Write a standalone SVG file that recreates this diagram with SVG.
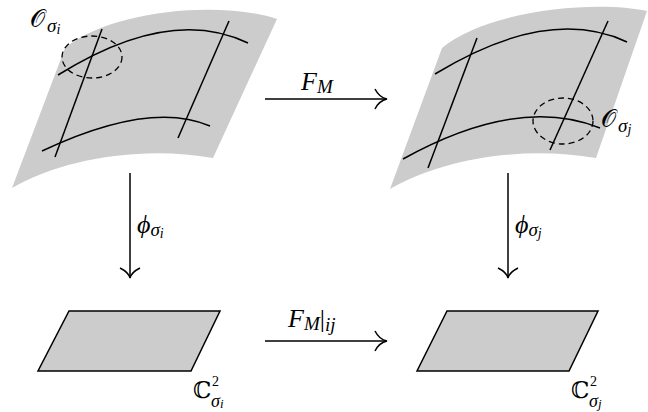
<svg xmlns="http://www.w3.org/2000/svg" width="648" height="412" viewBox="0 0 648 412">
<style>
.surf{fill:#cccccc;stroke:none}
.ln{fill:none;stroke:#000;stroke-width:1.5}
.dash{fill:none;stroke:#000;stroke-width:1.3;stroke-dasharray:6 4}
.plane{fill:#cccccc;stroke:#000;stroke-width:1.5;stroke-linejoin:miter}
.m{font-family:"Liberation Serif","DejaVu Serif",serif;font-style:italic;font-size:26px;fill:#000}
.cal{font-family:"DejaVu Serif","Liberation Serif",serif;font-size:24px;fill:#000}
.bb{font-family:"DejaVu Serif","Liberation Serif",serif;font-size:23px;fill:#000}
.s{font-size:19px}
.ss{font-size:14px}
.up{font-family:"Liberation Serif",serif;font-style:normal}
.sup{font-family:"Liberation Serif",serif;font-size:14px;fill:#000}
.sub{font-family:"Liberation Serif","DejaVu Serif",serif;font-style:italic;font-size:18px;fill:#000}
</style>
<rect width="648" height="412" fill="#fff"/>
<g id="surface-i">
<path class="surf" d="M 65,48 C 110,10 220,0 277,19 L 213,158 C 140,145 60,160 12,188 Z"/>
<path class="ln" d="M 58,75 Q 170,5 248,43"/>
<path class="ln" d="M 42,151 Q 150,100 210,126"/>
<path class="ln" d="M 102,29 L 55,157"/>
<path class="ln" d="M 229,21 L 178,138"/>
<ellipse class="dash" cx="92" cy="57" rx="30" ry="21"/>
<text class="cal" x="30" y="27">𝒪<tspan class="m s" dx="2" dy="5">σ</tspan><tspan class="m ss" dy="2">i</tspan></text>
</g>
<g id="surface-j">
<path class="surf" d="M 442,48 C 487,10 595,0 647,11 L 596,158 C 520,145 440,160 390,189 Z"/>
<path class="ln" d="M 435,74 Q 548,5 627,42"/>
<path class="ln" d="M 403,159 Q 518,95 600,128"/>
<path class="ln" d="M 477,38 L 428,168"/>
<path class="ln" d="M 608,21 L 550,150"/>
<ellipse class="dash" cx="563" cy="121" rx="30" ry="23"/>
<text class="cal" x="601" y="127">𝒪<tspan class="m s" dx="2" dy="5">σ</tspan><tspan class="m ss" dy="2">j</tspan></text>
</g>
<g id="plane-i">
<path class="plane" d="M 69,311 L 220,311 L 191,371 L 38,371 Z"/>
<text class="bb" x="193" y="398">ℂ</text>
<text class="sup" x="212" y="386">2</text>
<text class="sub" x="211" y="407">σ<tspan font-size="13px" dy="1">i</tspan></text>
</g>
<g id="plane-j">
<path class="plane" d="M 447,311 L 598,311 L 569,371 L 417,371 Z"/>
<text class="bb" x="571" y="398">ℂ</text>
<text class="sup" x="590" y="386">2</text>
<text class="sub" x="589" y="407">σ<tspan font-size="13px" dy="1">j</tspan></text>
</g>
<g id="connectors">
<path class="ln" d="M 265,99 L 386,99"/>
<path class="ln" d="M 375,89 C 378,95 382,98 387,99 C 382,100 378,103 375,109"/>
<text class="m" x="301" y="90">F<tspan class="s" dy="3">M</tspan></text>
<path class="ln" d="M 265,341 L 386,341"/>
<path class="ln" d="M 375,331 C 378,337 382,340 387,341 C 382,342 378,345 375,351"/>
<text class="m" x="288" y="327">F<tspan class="s" dy="3">M</tspan><tspan class="up" dy="-3">|</tspan><tspan class="s" dy="4">ij</tspan></text>
<path class="ln" d="M 130,173 L 130,277"/>
<path class="ln" d="M 120,268 C 126,271 129,274 130,278 C 131,274 134,271 140,268"/>
<text class="m" x="137" y="233">ϕ<tspan class="s" dy="3">σ</tspan><tspan class="ss" dy="2">i</tspan></text>
<path class="ln" d="M 508,173 L 508,277"/>
<path class="ln" d="M 498,268 C 504,271 507,274 508,278 C 509,274 512,271 518,268"/>
<text class="m" x="515" y="233">ϕ<tspan class="s" dy="3">σ</tspan><tspan class="ss" dy="2">j</tspan></text>
</g>
</svg>
